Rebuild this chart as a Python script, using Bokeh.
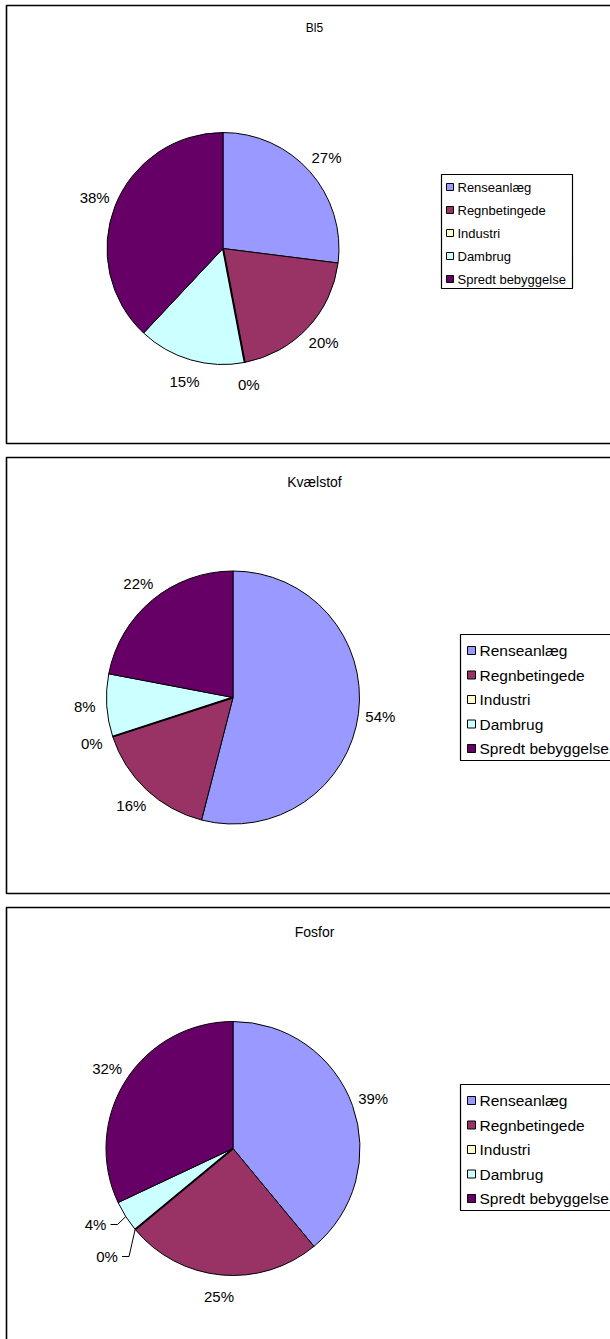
import math

from bokeh.core.properties import value
from bokeh.embed import file_html
from bokeh.models import Range1d
from bokeh.plotting import figure
from bokeh.resources import INLINE

# Source categories and their shares (percent) for each parameter
categories = ["Renseanlæg", "Regnbetingede", "Industri", "Dambrug", "Spredt bebyggelse"]
colors = ["#9999FF", "#993366", "#FFFFCC", "#CCFFFF", "#660066"]
titles = ["Bl5", "Kvælstof", "Fosfor"]
bl5_share = [27, 20, 0, 15, 38]
kvaelstof_share = [54, 16, 0, 8, 22]
fosfor_share = [39, 25, 0, 4, 32]

W, H = 610, 1339
FONT = "Liberation Sans"

p = figure(width=W, height=H, output_backend="svg", toolbar_location=None,
           x_range=Range1d(0, W), y_range=Range1d(0, H),
           x_axis_type=None, y_axis_type=None, min_border=0)
p.grid.visible = False
p.outline_line_color = None
p.background_fill_color = "white"


def Y(py):
    """Convert a top-down page position to the plot's y coordinate."""
    return H - py


# Layout of each chart panel (page pixels, top-down)
panels = [
    dict(title=titles[0], values=bl5_share, top=5, bottom=443, cx=222.5, cy=248, r=116,
         title_y=27, title_size=12, label_size=15, label_gap=22,
         legend=dict(left=441, right=572, top=174, bottom=288, first=186.5, step=23,
                     sq=7, text_x=457, size=13),
         leaders={}),
    dict(title=titles[1], values=kvaelstof_share, top=457, bottom=893, cx=232.5, cy=697, r=126.5,
         title_y=481, title_size=14, label_size=15, label_gap=22,
         legend=dict(left=460, right=640, top=634, bottom=760, first=650, step=24.5,
                     sq=8, text_x=479, size=15.5),
         leaders={}),
    dict(title=titles[2], values=fosfor_share, top=907, bottom=1360, cx=232.5, cy=1148, r=127,
         title_y=931, title_size=14, label_size=15, label_gap=22,
         legend=dict(left=460, right=640, top=1084, bottom=1210, first=1100, step=24.5,
                     sq=8, text_x=479, size=15.5),
         leaders={2: (106.5, 1256), 3: (95, 1224)}),
]

for pan in panels:
    # Panel frame
    p.quad(left=6, right=625, top=Y(pan["top"]), bottom=Y(pan["bottom"]),
           fill_color="white", line_color="black", line_width=1.6)

    # Title
    p.text(x=[314], y=[Y(pan["title_y"])], text=[pan["title"]],
           text_font=value(FONT), text_font_size=f"{pan['title_size']}px",
           text_align="center", text_baseline="middle", text_color="black")

    vals = pan["values"]
    total = float(sum(vals))
    cx, cy, r = pan["cx"], Y(pan["cy"]), pan["r"]

    # Slices run clockwise from twelve o'clock
    cum = 0.0
    starts, ends, fills, mids = [], [], [], []
    zero_x, zero_y = [], []
    for v, c in zip(vals, colors):
        a0 = math.pi / 2 - 2 * math.pi * cum / total
        cum += v
        a1 = math.pi / 2 - 2 * math.pi * cum / total
        mids.append((a0 + a1) / 2)
        if v > 0:
            starts.append(a0)
            ends.append(a1)
            fills.append(c)
        else:
            # an empty slice collapses to a doubled edge line
            zero_x.append([cx, cx + r * math.cos(a0)])
            zero_y.append([cy, cy + r * math.sin(a0)])
    p.wedge(x=[cx] * len(starts), y=[cy] * len(starts), radius=r,
            start_angle=starts, end_angle=ends, direction="clock",
            fill_color=fills, line_color="black", line_width=1)
    if zero_x:
        p.multi_line(xs=zero_x, ys=zero_y, line_color="black", line_width=2)

    # Percentage labels
    lx, ly, lt = [], [], []
    seg_x, seg_y = [], []
    for i, (v, m) in enumerate(zip(vals, mids)):
        txt = f"{round(v)}%"
        if i in pan["leaders"]:
            tx, ty = pan["leaders"][i]
            ex, ey = cx + r * math.cos(m), cy + r * math.sin(m)
            hx = tx + 15
            seg_x.append([hx, hx + 7, ex])
            seg_y.append([Y(ty), Y(ty), ey])
            lx.append(tx)
            ly.append(Y(ty))
        else:
            d = r + pan["label_gap"]
            lx.append(cx + d * math.cos(m))
            ly.append(cy + d * math.sin(m))
        lt.append(txt)
    p.text(x=lx, y=ly, text=lt, text_font=value(FONT),
           text_font_size=f"{pan['label_size']}px", text_align="center",
           text_baseline="middle", text_color="black")
    if seg_x:
        p.multi_line(xs=seg_x, ys=seg_y, line_color="black", line_width=1)

    # Legend
    lg = pan["legend"]
    p.quad(left=lg["left"], right=lg["right"], top=Y(lg["top"]), bottom=Y(lg["bottom"]),
           fill_color="white", line_color="black", line_width=1.2)
    ys = [Y(lg["first"] + k * lg["step"]) for k in range(len(categories))]
    sq_l = lg["text_x"] - 4 - lg["sq"]
    p.quad(left=[sq_l] * len(ys), right=[sq_l + lg["sq"]] * len(ys),
           top=[y + lg["sq"] / 2 for y in ys], bottom=[y - lg["sq"] / 2 for y in ys],
           fill_color=colors, line_color="black", line_width=1)
    p.text(x=[lg["text_x"]] * len(ys), y=ys, text=categories, text_font=value(FONT),
           text_font_size=f"{lg['size']}px", text_align="left", text_baseline="middle",
           text_color="black")

open("out.html", "w").write(file_html(p, INLINE))
